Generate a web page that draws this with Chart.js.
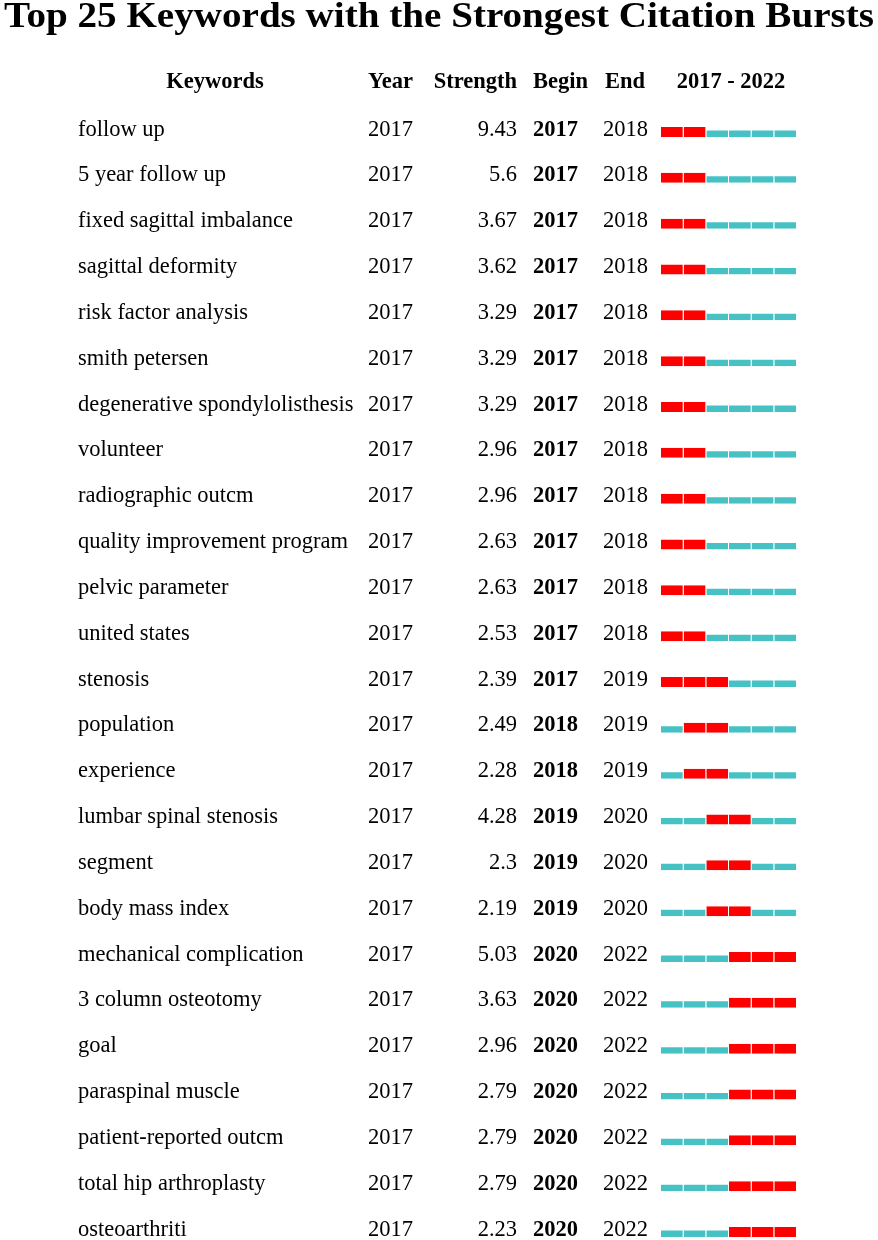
<!DOCTYPE html>
<html>
<head>
<meta charset="utf-8">
<script src="https://cdn.jsdelivr.net/npm/chart.js@4.4.0/dist/chart.umd.min.js"></script>
<style>
  html, body { margin: 0; padding: 0; background: #fff; }
  #wrap { width: 878px; height: 1240px; position: relative; }
</style>
</head>
<body>
<div id="wrap"><canvas id="burstChart"></canvas></div>
<script>
// table data
const keywords = [
  'follow up', '5 year follow up', 'fixed sagittal imbalance', 'sagittal deformity',
  'risk factor analysis', 'smith petersen', 'degenerative spondylolisthesis', 'volunteer',
  'radiographic outcm', 'quality improvement program', 'pelvic parameter', 'united states',
  'stenosis', 'population', 'experience', 'lumbar spinal stenosis', 'segment',
  'body mass index', 'mechanical complication', '3 column osteotomy', 'goal',
  'paraspinal muscle', 'patient-reported outcm', 'total hip arthroplasty', 'osteoarthriti'
];
const years = [2017, 2017, 2017, 2017, 2017, 2017, 2017, 2017, 2017, 2017, 2017, 2017, 2017,
  2017, 2017, 2017, 2017, 2017, 2017, 2017, 2017, 2017, 2017, 2017, 2017];
const strength = [9.43, 5.6, 3.67, 3.62, 3.29, 3.29, 3.29, 2.96, 2.96, 2.63, 2.63, 2.53, 2.39,
  2.49, 2.28, 4.28, 2.3, 2.19, 5.03, 3.63, 2.96, 2.79, 2.79, 2.79, 2.23];
const begin = [2017, 2017, 2017, 2017, 2017, 2017, 2017, 2017, 2017, 2017, 2017, 2017, 2017,
  2018, 2018, 2019, 2019, 2019, 2020, 2020, 2020, 2020, 2020, 2020, 2020];
const end = [2018, 2018, 2018, 2018, 2018, 2018, 2018, 2018, 2018, 2018, 2018, 2018, 2019,
  2019, 2019, 2020, 2020, 2020, 2022, 2022, 2022, 2022, 2022, 2022, 2022];
const timeline = [2017, 2018, 2019, 2020, 2021, 2022];

const RED = '#ff0000';
const CYAN = '#47c2c4';
const SERIF = '"Liberation Serif", "Times New Roman", serif';
const FS = 22.5;

function inBurst(row, yr) {
  return yr >= begin[row] && yr <= end[row];
}

// one dataset per year slice of the timeline
const datasets = timeline.map(yr => ({
  label: String(yr),
  data: keywords.map(() => [yr, yr + 1]),
  backgroundColor: keywords.map((k, i) => inBurst(i, yr) ? RED : CYAN),
  borderColor: 'rgba(0,0,0,0)',
  borderSkipped: false,
  borderWidth: ctx => inBurst(ctx.dataIndex, yr)
    ? { top: 0, right: 1, bottom: 0, left: 0 }
    : { top: 3.5, right: 1, bottom: 0, left: 0 },
  inflateAmount: 0,
  barThickness: 10,
  grouped: false,
  clip: false
}));

const tableText = {
  id: 'tableText',
  afterDraw(chart) {
    const ctx = chart.ctx;
    const yScale = chart.scales.y;
    ctx.save();
    ctx.fillStyle = '#000';

    // title: ~36px tall glyphs, stretched across the page width like the source image
    const title = 'Top 25 Keywords with the Strongest Citation Bursts';
    ctx.font = 'bold 36.5px ' + SERIF;
    ctx.textBaseline = 'alphabetic';
    ctx.textAlign = 'left';
    const w = ctx.measureText(title).width;
    ctx.save();
    ctx.translate(4, 27);
    ctx.scale(870 / w, 1);
    ctx.fillText(title, 0, 0);
    ctx.restore();

    // header row
    ctx.font = 'bold ' + FS + 'px ' + SERIF;
    ctx.textAlign = 'center';
    ctx.fillText('Keywords', 215, 88);
    ctx.fillText('2017 - 2022', 731, 88);
    ctx.textAlign = 'left';
    ctx.fillText('Year', 368, 88);
    ctx.fillText('Begin', 533, 88);
    ctx.fillText('End', 605, 88);
    ctx.textAlign = 'right';
    ctx.fillText('Strength', 517, 88);

    // rows
    keywords.forEach((k, i) => {
      const y = yScale.getPixelForValue(i) + 3.5;
      ctx.font = FS + 'px ' + SERIF;
      ctx.textAlign = 'left';
      ctx.fillText(k, 78, y);
      ctx.fillText(String(years[i]), 368, y);
      ctx.fillText(String(end[i]), 603, y);
      ctx.textAlign = 'right';
      ctx.fillText(String(strength[i]), 517, y);
      ctx.font = 'bold ' + FS + 'px ' + SERIF;
      ctx.textAlign = 'left';
      ctx.fillText(String(begin[i]), 533, y);
    });
    ctx.restore();
  }
};

new Chart(document.getElementById('burstChart'), {
  type: 'bar',
  data: { labels: keywords, datasets: datasets },
  options: {
    indexAxis: 'y',
    responsive: true,
    maintainAspectRatio: false,
    animation: false,
    layout: { padding: { left: 661, right: 81, top: 132, bottom: 8 } },
    plugins: {
      legend: { display: false },
      title: { display: false },
      tooltip: { enabled: false }
    },
    scales: {
      x: { type: 'linear', min: 2017, max: 2023, display: false },
      y: { type: 'category', offset: false, display: false }
    }
  },
  plugins: [tableText]
});
</script>
</body>
</html>
